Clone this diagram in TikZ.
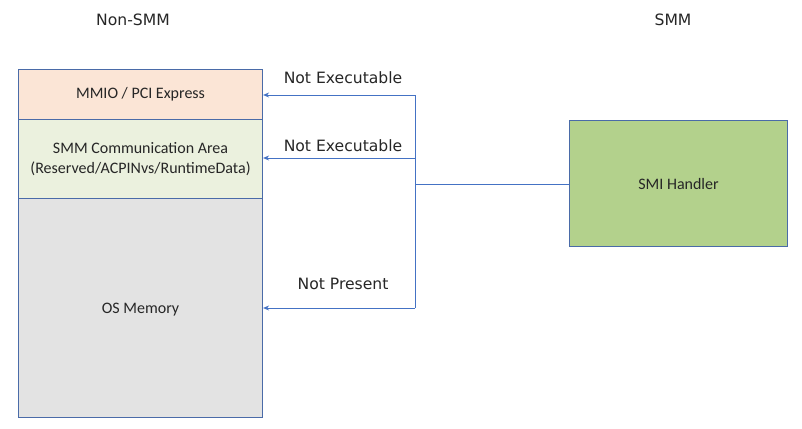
\documentclass[tikz,border=0pt]{standalone}
\usepackage{fontspec}
\setmainfont{Carlito}
\newfontfamily\labelfont{DejaVu Sans}
\usetikzlibrary{arrows.meta}
\definecolor{boxline}{HTML}{4A6BA8}
\definecolor{arrowline}{HTML}{4472C4}
\definecolor{mmiofill}{HTML}{FBE5D6}
\definecolor{commfill}{HTML}{EBF1DE}
\definecolor{osfill}{HTML}{E3E3E3}
\definecolor{smifill}{HTML}{B3D18C}
\definecolor{txt}{HTML}{262626}
\begin{document}
\begin{tikzpicture}[x=1pt,y=-1pt,
  membox/.style={draw=boxline, line width=1.1pt, inner sep=0pt, anchor=north west, text=txt,
    font=\fontsize{16}{19.5}\selectfont, align=center},
  lbl/.style={font=\labelfont\fontsize{15.6}{18}\selectfont, text=txt, inner sep=0pt},
  conn/.style={draw=arrowline, line width=0.9pt},
  arr/.style={conn, -{Stealth[length=6pt,width=5pt]}}]
\useasboundingbox (0,0) rectangle (802,428);
\node[membox, fill=mmiofill, minimum width=244pt, minimum height=50pt] (mmio) at (18,69) {MMIO / PCI Express};
\node[membox, fill=commfill, minimum width=244pt, minimum height=79pt] (comm) at (18,119) {SMM Communication Area\\(Reserved/ACPINvs/RuntimeData)};
\node[membox, fill=osfill, minimum width=244pt, minimum height=219pt, text depth=-3pt] (os) at (18,198) {OS Memory};
\node[membox, fill=smifill, minimum width=218pt, minimum height=126pt] (smi) at (569,120) {SMI Handler};
\node[lbl] (nsmm) at (133,20) {Non-SMM};
\node[lbl] (smm) at (673,20) {SMM};
\coordinate (top) at (415,95);
\coordinate (mid) at (415,158);
\coordinate (bot) at (415,308);
\coordinate (junc) at (415,184);
\draw[conn] (top) -- (bot);
\draw[conn] (smi.west |- junc) -- (junc);
\draw[arr] (top) -- (top -| mmio.east);
\draw[arr] (mid) -- (mid -| comm.east);
\draw[arr] (bot) -- (bot -| os.east);
\node[lbl] (l1) at (343,78) {Not Executable};
\node[lbl] (l2) at (343,146) {Not Executable};
\node[lbl] (l3) at (343,284) {Not Present};
\end{tikzpicture}
\end{document}
